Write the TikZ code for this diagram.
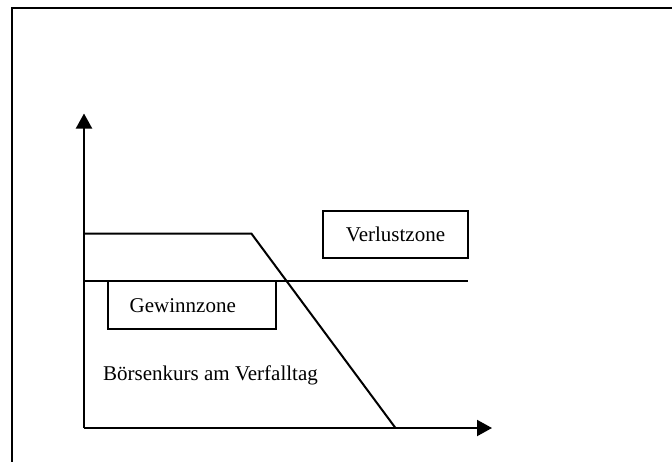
\documentclass[tikz,border=0pt]{standalone}
\usepackage{fontspec}
\setmainfont{Liberation Serif}
\usetikzlibrary{arrows.meta}
\tikzset{
  axis/.style={line width=2pt, -{Triangle[length=15pt 0,width=16pt 0]}},
  curve/.style={line width=2pt, line join=miter},
  zonebox/.style={draw, line width=2pt, inner sep=0pt,
    font=\fontsize{21}{25}\selectfont},
  label/.style={inner sep=0pt, font=\fontsize{21}{25}\selectfont}
}
\begin{document}
\begin{tikzpicture}[x=1pt,y=-1pt]
  \useasboundingbox (0,0) rectangle (672,461);
  \clip (0,0) rectangle (672,461);
  % outer frame (only top and left edges lie inside the page)
  \draw[line width=2pt] (11.8,470) -- (11.8,8.3) -- (680,8.3);

  % axes
  \coordinate (O) at (84,428);
  \coordinate (ytip) at (84,113.5);
  \coordinate (xtip) at (492,428);
  \draw[axis] (O) -- (ytip);
  \draw[axis] (O) -- (xtip);

  % payoff profile: flat, then falling to the price axis
  \coordinate (p0) at (84,233.7);
  \coordinate (p1) at (251.5,233.7);
  \coordinate (p2) at (395.5,428);
  \draw[curve] (p0) -- (p1) -- (p2);

  % break-even line
  \coordinate (m0) at (84,281.3);
  \coordinate (m1) at (468,281.3);
  \draw[curve] (m0) -- (m1);

  % zone labels
  \node[zonebox, minimum width=145pt, minimum height=47pt]
    (verlust) at (395.5,234) {Verlustzone};
  \node[zonebox, minimum height=48pt, text width=124pt, inner xsep=22pt,
    align=left] (gewinn) at (191.7,305.2) {Gewinnzone};

  % axis caption
  \node[label, anchor=base west] (kurs) at (103,380.5)
    {Börsenkurs am Verfalltag};
\end{tikzpicture}
\end{document}
